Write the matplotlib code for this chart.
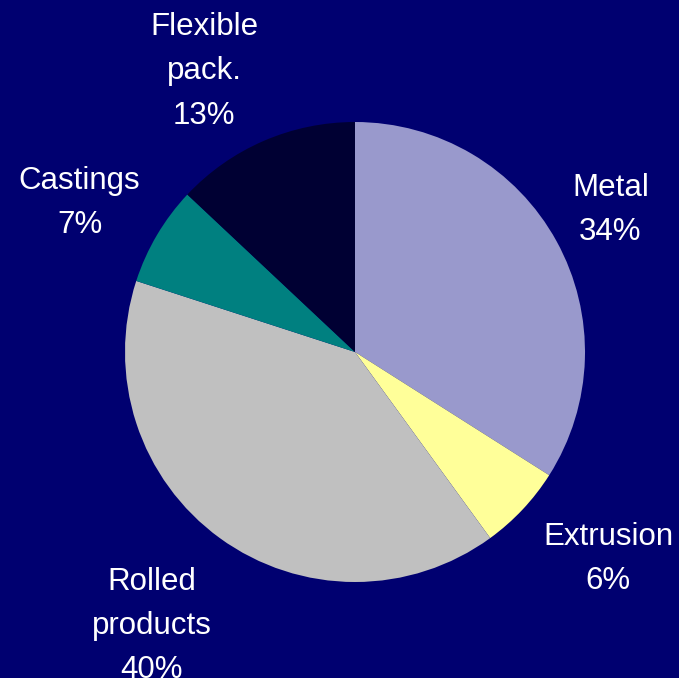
import matplotlib.pyplot as plt
import numpy as np
from matplotlib.transforms import offset_copy

categories = ["Metal", "Extrusion", "Rolled\nproducts", "Castings", "Flexible\npack."]
shares = [34, 6, 40, 7, 13]
colors = ["#9999CC", "#FFFF99", "#C0C0C0", "#008080", "#000033"]
label_radius = [1.28, 1.41, 1.47, 1.37, 1.40]
label_shift = [1.0, 4.5, -1.0, 1.5, 4.5]

BG = "#000070"

plt.rcParams["font.family"] = ["Liberation Sans", "DejaVu Sans"]

fig = plt.figure(figsize=(6.79, 6.78), dpi=100, facecolor=BG)
cx, cy, r = 355, 678 - 352, 230
ax = fig.add_axes([(cx - r) / 679, (cy - r) / 678, 2 * r / 679, 2 * r / 678])
ax.set_facecolor(BG)

wedges, _ = ax.pie(
    shares,
    colors=colors,
    startangle=90,
    counterclock=False,
    radius=1.0,
    wedgeprops={"linewidth": 0},
)

# nudge labels a few pixels down so multi-line blocks sit centred on their anchor
label_tf = offset_copy(ax.transData, fig=fig, x=0, y=-4, units="dots")
for wedge, name, pct, rad, shift in zip(wedges, categories, shares, label_radius, label_shift):
    mid = np.deg2rad((wedge.theta1 + wedge.theta2) / 2 + shift)
    ax.text(
        rad * np.cos(mid),
        rad * np.sin(mid),
        f"{name}\n{pct}%",
        transform=label_tf,
        ha="center",
        va="center",
        color="white",
        fontsize=22.5,
        linespacing=1.62,
        clip_on=False,
    )

ax.set_xlim(-1, 1)
ax.set_ylim(-1, 1)
ax.set_aspect("equal")
ax.axis("off")

fig.savefig("out.png", dpi=100, facecolor=BG)
